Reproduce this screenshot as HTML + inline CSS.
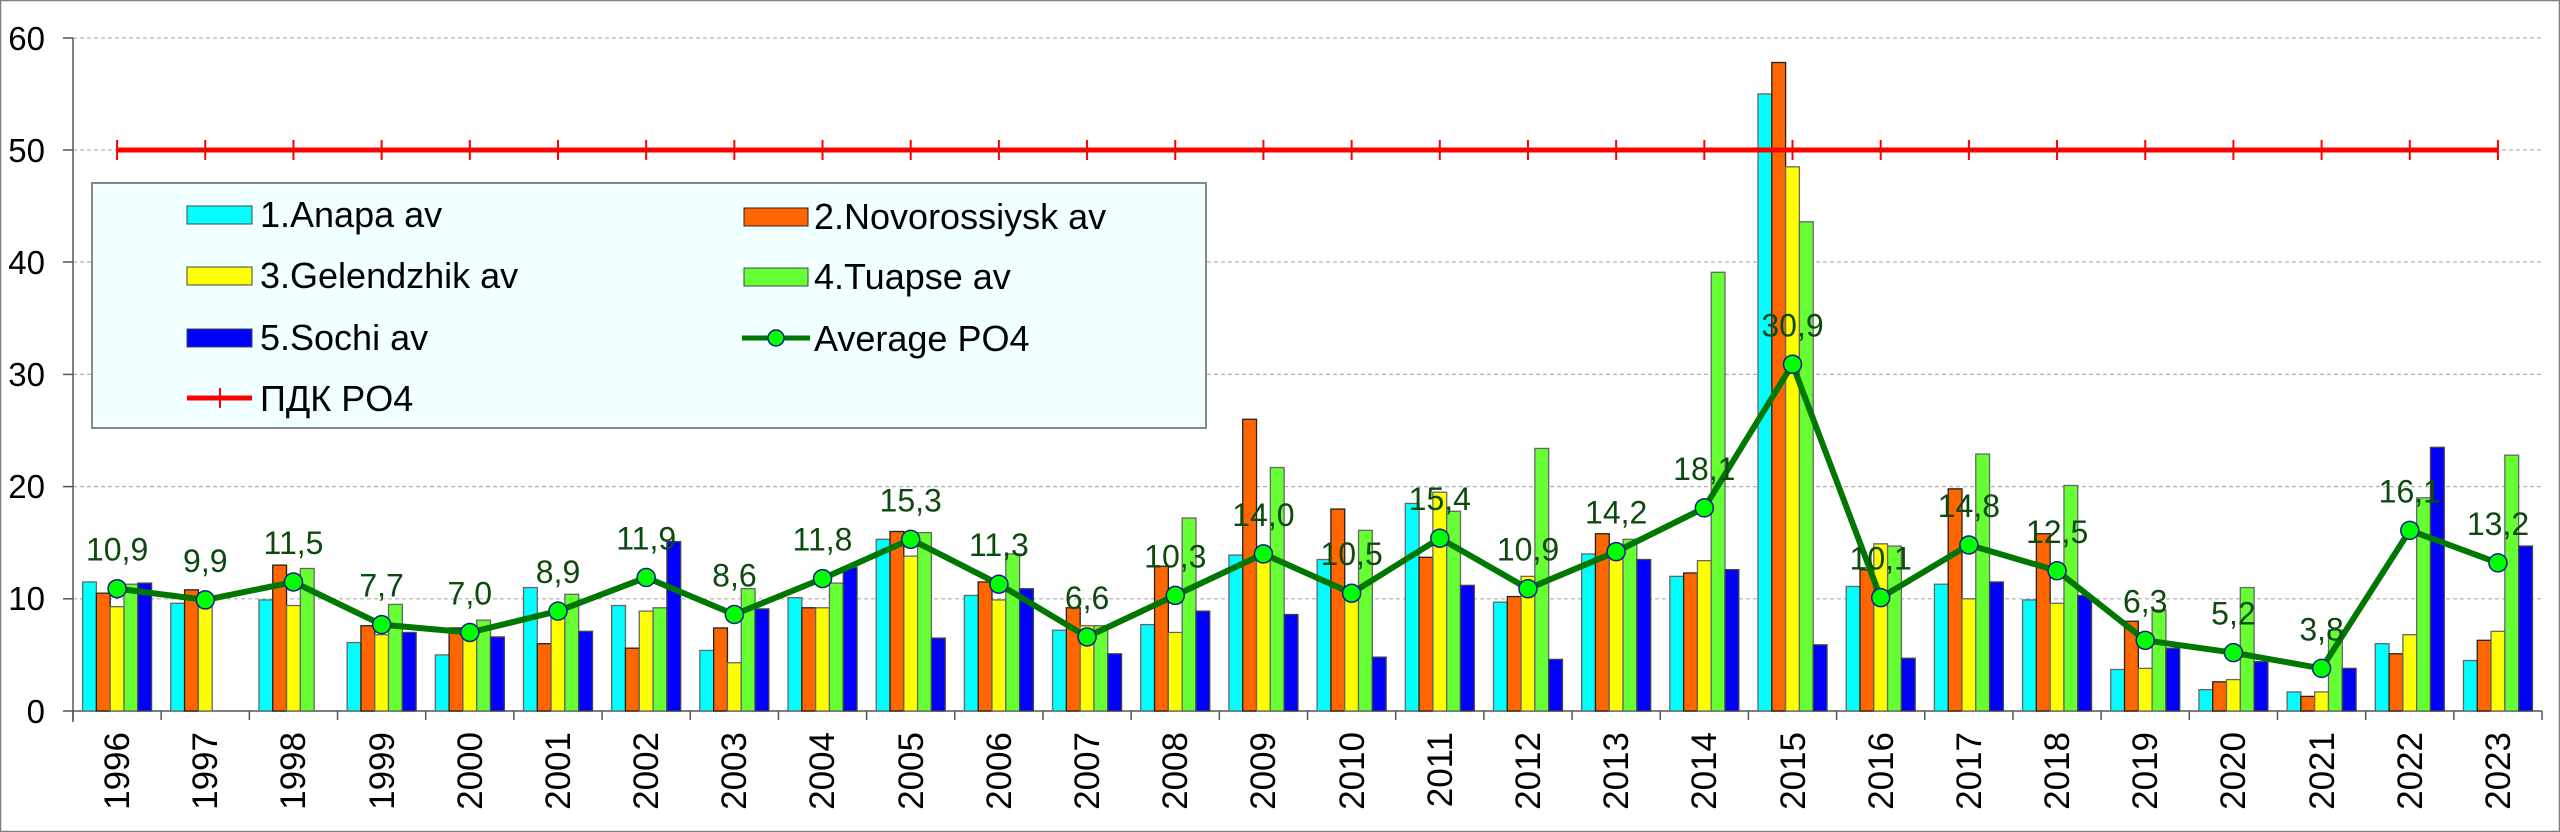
<!DOCTYPE html>
<html><head><meta charset="utf-8"><style>
html,body{margin:0;padding:0;background:#fff;}
svg{display:block;font-family:"Liberation Sans",Arial,sans-serif;}
</style></head><body>
<svg id="c" width="2560" height="832" viewBox="0 0 2560 832" xmlns="http://www.w3.org/2000/svg">
<rect x="0.5" y="0.5" width="2559" height="831" fill="#fff" stroke="#808080" stroke-width="1.5"/>
<g id="grid" stroke="#b0b0b0" stroke-width="1.2" stroke-dasharray="4,3">
<line x1="73" y1="38" x2="2542" y2="38"/><line x1="73" y1="150" x2="2542" y2="150"/><line x1="73" y1="262" x2="2542" y2="262"/><line x1="73" y1="374.4" x2="2542" y2="374.4"/><line x1="73" y1="486.6" x2="2542" y2="486.6"/><line x1="73" y1="598.8" x2="2542" y2="598.8"/>
</g>
<g stroke="#555" stroke-width="1.5">
<line x1="73" y1="38" x2="73" y2="722"/><line x1="63" y1="711" x2="2542" y2="711"/>
<line x1="63" y1="38" x2="73" y2="38"/><line x1="63" y1="150" x2="73" y2="150"/><line x1="63" y1="262" x2="73" y2="262"/><line x1="63" y1="374.4" x2="73" y2="374.4"/><line x1="63" y1="486.6" x2="73" y2="486.6"/><line x1="63" y1="598.8" x2="73" y2="598.8"/>
</g>
<g id="ticks" stroke="#555" stroke-width="1.5"></g>
<g font-size="33" text-anchor="end" fill="#000">
<text x="45" y="50">60</text><text x="45" y="162">50</text><text x="45" y="274">40</text><text x="45" y="386">30</text><text x="45" y="498">20</text><text x="45" y="610">10</text><text x="45" y="723">0</text>
</g>
<rect x="92" y="183" width="1114" height="245" fill="#f0ffff" stroke="#888" stroke-width="2"/>
<g id="bars"></g>
<g id="lines"></g>
<g font-size="36" fill="#000">
<rect x="187" y="206" width="65" height="18" fill="#00ffff" stroke="#444"/><text x="260" y="227">1.Anapa av</text>
<rect x="187" y="267" width="65" height="18" fill="#ffff00" stroke="#444"/><text x="260" y="288">3.Gelendzhik av</text>
<rect x="187" y="329" width="65" height="18" fill="#0000ff" stroke="#444"/><text x="260" y="350">5.Sochi av</text>
<line x1="187" y1="398" x2="252" y2="398" stroke="#ff0000" stroke-width="5"/><line x1="220" y1="388" x2="220" y2="408" stroke="#ff0000" stroke-width="2"/><text x="260" y="411">ПДК PO4</text>
<rect x="744" y="208" width="64" height="18" fill="#ff6600" stroke="#222"/><text x="814" y="229">2.Novorossiysk av</text>
<rect x="744" y="268" width="64" height="18" fill="#66ff33" stroke="#444"/><text x="814" y="289">4.Tuapse av</text>
<line x1="742" y1="338" x2="810" y2="338" stroke="#007700" stroke-width="5"/><ellipse cx="776" cy="338" rx="8" ry="8" fill="#00ff00" stroke="#1a1a8a" stroke-width="1.5"/><text x="814" y="351">Average PO4</text>
</g>
<g font-size="32" fill="#0d4a0d" text-anchor="middle">
<text x="117.1" y="560.7">10,9</text><text x="205.3" y="571.9">9,9</text><text x="293.5" y="554">11,5</text><text x="381.6" y="596.6">7,7</text><text x="469.8" y="604.5">7,0</text><text x="558" y="583.1">8,9</text><text x="646.2" y="549.5">11,9</text><text x="734.4" y="586.5">8,6</text><text x="822.5" y="550.6">11,8</text><text x="910.7" y="511.3">15,3</text><text x="998.9" y="556.2">11,3</text><text x="1087.1" y="608.9">6,6</text><text x="1175.3" y="567.4">10,3</text><text x="1263.4" y="525.9">14,0</text><text x="1351.6" y="565.2">10,5</text><text x="1439.8" y="510.2">15,4</text><text x="1528" y="560.7">10,9</text><text x="1616.2" y="523.7">14,2</text><text x="1704.3" y="479.9">18,1</text><text x="1792.5" y="336.3">30,9</text><text x="1880.7" y="569.7">10,1</text><text x="1968.9" y="517">14,8</text><text x="2057.1" y="542.8">12,5</text><text x="2145.2" y="612.3">6,3</text><text x="2233.4" y="624.7">5,2</text><text x="2321.6" y="640.4">3,8</text><text x="2409.8" y="502.4">16,1</text><text x="2498" y="534.9">13,2</text>
</g>
<g font-size="35" fill="#000" text-anchor="end">
<text transform="translate(129,732) rotate(-90)">1996</text><text transform="translate(217,732) rotate(-90)">1997</text><text transform="translate(305,732) rotate(-90)">1998</text><text transform="translate(394,732) rotate(-90)">1999</text><text transform="translate(482,732) rotate(-90)">2000</text><text transform="translate(570,732) rotate(-90)">2001</text><text transform="translate(658,732) rotate(-90)">2002</text><text transform="translate(746,732) rotate(-90)">2003</text><text transform="translate(834,732) rotate(-90)">2004</text><text transform="translate(923,732) rotate(-90)">2005</text><text transform="translate(1011,732) rotate(-90)">2006</text><text transform="translate(1099,732) rotate(-90)">2007</text><text transform="translate(1187,732) rotate(-90)">2008</text><text transform="translate(1275,732) rotate(-90)">2009</text><text transform="translate(1364,732) rotate(-90)">2010</text><text transform="translate(1452,732) rotate(-90)">2011</text><text transform="translate(1540,732) rotate(-90)">2012</text><text transform="translate(1628,732) rotate(-90)">2013</text><text transform="translate(1716,732) rotate(-90)">2014</text><text transform="translate(1805,732) rotate(-90)">2015</text><text transform="translate(1893,732) rotate(-90)">2016</text><text transform="translate(1981,732) rotate(-90)">2017</text><text transform="translate(2069,732) rotate(-90)">2018</text><text transform="translate(2157,732) rotate(-90)">2019</text><text transform="translate(2245,732) rotate(-90)">2020</text><text transform="translate(2334,732) rotate(-90)">2021</text><text transform="translate(2422,732) rotate(-90)">2022</text><text transform="translate(2510,732) rotate(-90)">2023</text>
</g>
<script>
(function(){
var NS="http://www.w3.org/2000/svg";
function el(t,a,p){var e=document.createElementNS(NS,t);for(var k in a)e.setAttribute(k,a[k]);p.appendChild(e);return e;}
var d=[[11.5,10.5,9.3,11.3,11.4],[9.6,10.8,9.5,0,0],[9.9,13.0,9.4,12.7,0],[6.1,7.6,6.8,9.5,7.0],[5.0,7.4,7.1,8.1,6.6],[11.0,6.0,8.9,10.4,7.1],[9.4,5.6,8.9,9.2,15.1],[5.4,7.4,4.3,10.9,9.1],[10.1,9.2,9.2,11.4,12.8],[15.3,16.0,13.8,15.9,6.5],[10.3,11.5,9.9,14.0,10.9],[7.2,9.2,7.6,7.6,5.1],[7.7,12.9,7.0,17.2,8.9],[13.9,26.0,14.0,21.7,8.6],[13.5,18.0,10.5,16.1,4.8],[18.5,13.7,19.5,17.8,11.2],[9.7,10.2,12.0,23.4,4.6],[14.0,15.8,14.0,15.3,13.5],[12.0,12.3,13.4,39.1,12.6],[55.0,57.8,48.5,43.6,5.9],[11.1,12.6,14.9,14.7,4.7],[11.3,19.8,10.0,22.9,11.5],[9.9,15.8,9.6,20.1,10.3],[3.7,8.0,3.8,9.0,5.6],[1.9,2.6,2.8,11.0,4.4],[1.7,1.3,1.7,7.2,3.8],[6.0,5.1,6.8,19.0,23.5],[4.5,6.3,7.1,22.8,14.7]];
var avg=[10.9,9.9,11.5,7.7,7.0,8.9,11.9,8.6,11.8,15.3,11.3,6.6,10.3,14.0,10.5,15.4,10.9,14.2,18.1,30.9,10.1,14.8,12.5,6.3,5.2,3.8,16.1,13.2];
var col=["#00ffff","#ff6600","#ffff00","#66ff33","#0000ff"],sc=["#666","#222","#666","#666","#444"];
var W=88.18,bw=13.8;function Y(v){return 711-11.22*v;}
var bars=document.getElementById("bars"),lines=document.getElementById("lines"),ticks=document.getElementById("ticks");
for(var i=0;i<=28;i++){var x=73+W*i;el("line",{x1:x,y1:711,x2:x,y2:720},ticks);}
for(var i=0;i<28;i++){var cx=73+W*(i+0.5);
 for(var j=0;j<5;j++){var v=d[i][j];if(!v)continue;el("rect",{x:cx-34.5+j*bw,y:Y(v),width:bw,height:711-Y(v),fill:col[j],stroke:sc[j],"stroke-width":1.3},bars);}
 el("line",{x1:cx,y1:140,x2:cx,y2:160,stroke:"#ff0000","stroke-width":2},lines);}
el("line",{x1:73+W*0.5,y1:150,x2:73+W*27.5,y2:150,stroke:"#ff0000","stroke-width":5},lines);
var pts=avg.map(function(v,i){return (73+W*(i+0.5)).toFixed(1)+","+Y(v).toFixed(1);}).join(" ");
el("polyline",{points:pts,fill:"none",stroke:"#007700","stroke-width":6,"stroke-linejoin":"round"},lines);
avg.forEach(function(v,i){el("ellipse",{cx:73+W*(i+0.5),cy:Y(v),rx:9,ry:9,fill:"#00ff00",stroke:"#1a1a8a","stroke-width":1.5},lines);});
})();
</script>
</svg>
</body></html>
